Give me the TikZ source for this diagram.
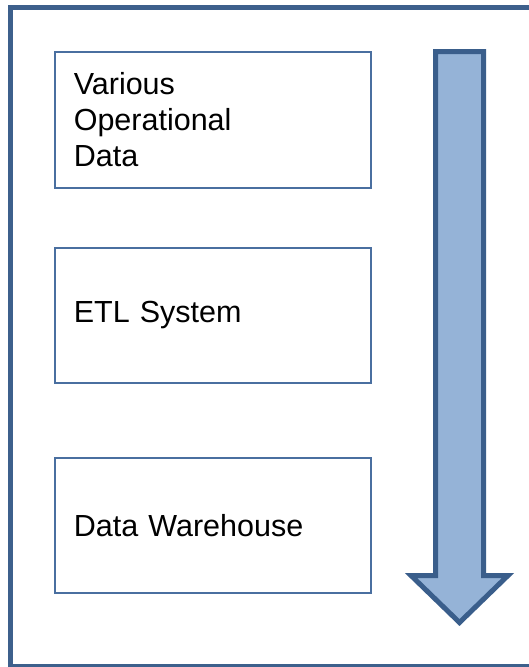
\documentclass[tikz,border=0pt]{standalone}
\usepackage{fontspec}
\setmainfont{Liberation Sans}
\usetikzlibrary{positioning, calc}
\definecolor{framecol}{RGB}{61,96,140}
\definecolor{boxline}{RGB}{74,111,160}
\definecolor{arrowfill}{RGB}{149,179,215}
\definecolor{arrowline}{RGB}{58,94,139}
\tikzset{
  stagebox/.style={
    draw=boxline, line width=1.6pt,
    minimum width=316pt, minimum height=#1,
    text width=278pt, inner xsep=19pt, align=left,
    font=\fontsize{30.5}{36}\selectfont, anchor=north west,
  },
  flowarrow/.style={draw=arrowline, fill=arrowfill, line width=5pt, line join=miter},
}

\begin{document}
\begin{tikzpicture}[x=1pt, y=-1pt]

% =====================================================================
%  CANVAS AND FRAME
% =====================================================================
\useasboundingbox (0,0) rectangle (529,667);
\clip (0,0) rectangle (529,667);

\draw[framecol, line width=5pt] (10.5,7.5) rectangle (560,666.5);

% =====================================================================
%  STAGES
% =====================================================================
\node[stagebox=136pt] (src) at (54,51) {Various\\Operational\\Data};
\node[stagebox=135pt] (etl) at (54,247) {ETL System};
\node[stagebox=135pt] (dwh) at (54,457) {Data Warehouse};

% =====================================================================
%  DOWNWARD FLOW ARROW
% =====================================================================
\coordinate (arrtop) at (459.5,51.5);
\coordinate (arrtip) at (459.5,622.5);
\draw[flowarrow]
  ($(arrtop)+(-24,0)$) -- ($(arrtop)+(24,0)$) -- (483.5,575.5) -- (508,575.5)
  -- (arrtip) -- (411,575.5) -- (435.5,575.5) -- cycle;

\end{tikzpicture}
\end{document}
